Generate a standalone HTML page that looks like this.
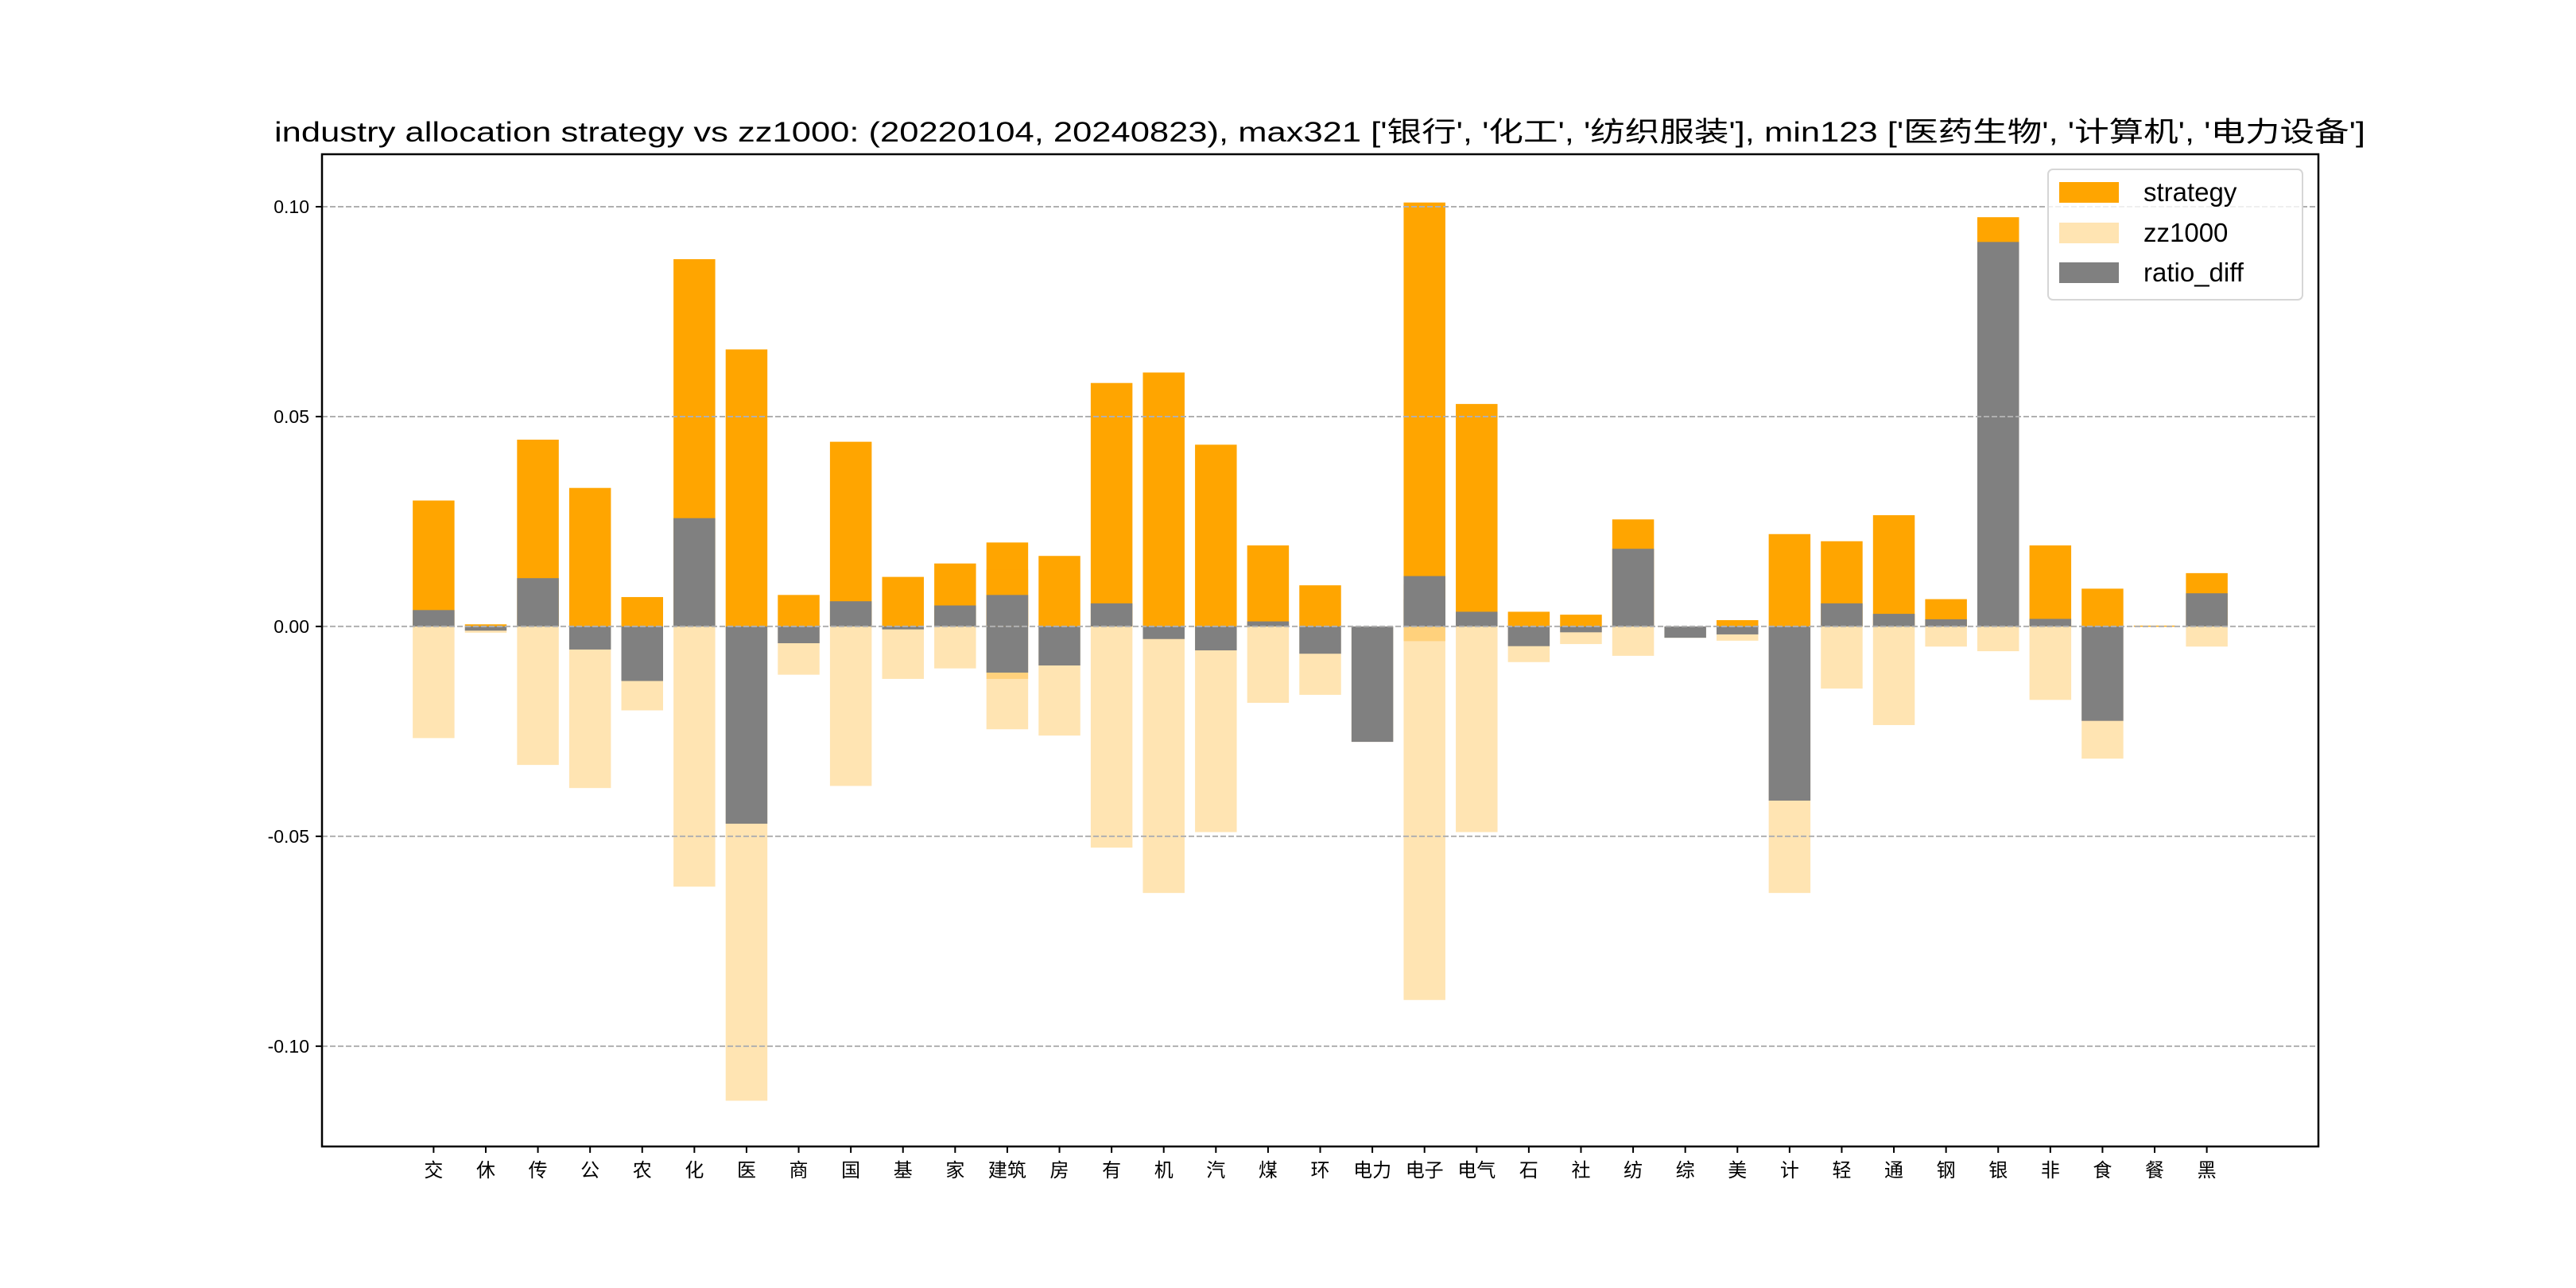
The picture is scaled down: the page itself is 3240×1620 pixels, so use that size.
<!DOCTYPE html>
<html><head><meta charset="utf-8">
<style>
html,body{margin:0;padding:0;background:#fff;}
svg{display:block;}
text{font-family:"Liberation Sans","Noto Sans CJK SC",sans-serif;}
</style></head>
<body>
<svg id="chart" width="3240" height="1620" viewBox="0 0 3240 1620" xmlns="http://www.w3.org/2000/svg">
<rect x="0" y="0" width="3240" height="1620" fill="#fff"/>
<text x="1660" y="178" text-anchor="middle" font-size="35" textLength="2630" lengthAdjust="spacingAndGlyphs" fill="#000">industry allocation strategy vs zz1000: (20220104, 20240823), max321 ['银行', '化工', '纺织服装'], min123 ['医药生物', '计算机', '电力设备']</text>
<g id="bars"></g>
<g id="grid"></g>
<g id="axes"></g>
<g id="legend">
  <rect x="2576" y="213" width="320" height="164" rx="6" fill="#fff" fill-opacity="0.8" stroke="#d6d6d6" stroke-width="2"/>
  <rect x="2590" y="229" width="75" height="26" fill="#FFA500"/>
  <text x="2696" y="253" font-size="33" fill="#000">strategy</text>
  <rect x="2590" y="280" width="75" height="26" fill="#FFE4B2"/>
  <text x="2696" y="304" font-size="33" fill="#000">zz1000</text>
  <rect x="2590" y="330" width="75" height="26" fill="#808080"/>
  <text x="2696" y="354" font-size="33" fill="#000">ratio_diff</text>
</g>
</svg>
<script>
const categories = ["交","休","传","公","农","化","医","商","国","基","家","建筑","建筑","房","有","机","汽","煤","环","电力","电子","电子","电气","石","社","纺","综","美","计","轻","通","钢","银","非","食","餐","黑"];
const strategyValues = [0.030,0.0005,0.0445,0.033,0.007,0.0875,0.066,0.0075,0.044,0.0118,0.015,0.020,0.0135,0.0168,0.058,0.0605,0.0433,0.0193,0.0098,0.0,0.101,0.010,0.053,0.0035,0.0028,0.0255,0.0,0.0015,0.022,0.0203,0.0265,0.0065,0.0975,0.0193,0.009,0.0002,0.0127];
const zz1000Values = [0.0266,0.0015,0.033,0.0385,0.020,0.062,0.113,0.0115,0.038,0.0125,0.010,0.0125,0.0245,0.026,0.0527,0.0635,0.049,0.0182,0.0163,0.0275,0.089,0.0035,0.049,0.0085,0.0042,0.007,0.0027,0.0034,0.0635,0.0148,0.0235,0.0048,0.0059,0.0175,0.0315,0.0002,0.0048];
const ratioDiffValues = [0.0039,-0.001,0.0115,-0.0055,-0.013,0.0258,-0.047,-0.004,0.006,-0.0007,0.005,0.0075,-0.011,-0.0093,0.0055,-0.003,-0.0057,0.0012,-0.0065,-0.0275,0.012,0.0065,0.0035,-0.0047,-0.0014,0.0185,-0.0027,-0.0019,-0.0415,0.0055,0.003,0.0017,0.0916,0.0018,-0.0225,0.0,0.0079];
const yTicks = [-0.10,-0.05,0.00,0.05,0.10];
const yTickLabels = ["-0.10","-0.05","0.00","0.05","0.10"];

const NS = "http://www.w3.org/2000/svg";
const L = 405, R = 2916, T = 194, B = 1442;
const yMin = -0.1239, yMax = 0.1125;
const labels = [];
categories.forEach(c => { if (labels.indexOf(c) < 0) labels.push(c); });
const n = labels.length;
const xMin = -0.4 - 0.05 * (n - 1 + 0.8), xMax = n - 1 + 0.4 + 0.05 * (n - 1 + 0.8);
function xs(i){ return L + (i - xMin) / (xMax - xMin) * (R - L); }
function ys(v){ return B - (v - yMin) / (yMax - yMin) * (B - T); }
const unit = (R - L) / (xMax - xMin);
const bw = 0.8 * unit;

function mk(tag, attrs, parent){
  const e = document.createElementNS(NS, tag);
  for (const k in attrs) e.setAttribute(k, attrs[k]);
  parent.appendChild(e);
  return e;
}
const gBars = document.getElementById("bars");
function bar(i, v, fill, name){
  const x = xs(labels.indexOf(categories[i])) - bw / 2;
  const y0 = ys(0), y1 = ys(v);
  const r = mk("rect", {x: x, y: Math.min(y0, y1), width: bw, height: Math.abs(y1 - y0), fill: fill}, gBars);
  
  
}
categories.forEach((c, i) => bar(i, strategyValues[i], "#FFA500", "strategy-bar"));
categories.forEach((c, i) => bar(i, -zz1000Values[i], "rgba(255,165,0,0.3)", "zz1000-bar"));
categories.forEach((c, i) => bar(i, ratioDiffValues[i], "#808080", "ratio-diff-bar"));

const gGrid = document.getElementById("grid");
const gAxes = document.getElementById("axes");
yTicks.forEach((t, k) => {
  const y = ys(t);
  const g = mk("line", {x1: L, x2: R, y1: y, y2: y, stroke: "#b0b0b0", "stroke-width": 2, "stroke-dasharray": "7,3"}, gGrid);
  
  
  const tk = mk("line", {x1: L - 8, x2: L, y1: y, y2: y, stroke: "#000", "stroke-width": 2}, gAxes);
  
  
  const tx = mk("text", {x: L - 16, y: y + 8, "text-anchor": "end", "font-size": 23, fill: "#000"}, gAxes);
  tx.textContent = yTickLabels[k];
  
  
});
labels.forEach((c, i) => {
  const x = xs(i);
  const tk = mk("line", {x1: x, x2: x, y1: B, y2: B + 8, stroke: "#000", "stroke-width": 2}, gAxes);
  
  
  const tx = mk("text", {x: x, y: B + 38, "text-anchor": "middle", "font-size": 24, fill: "#000"}, gAxes);
  tx.textContent = c;
  
  
});
const frame = mk("rect", {x: L, y: T, width: R - L, height: B - T, fill: "none", stroke: "#000", "stroke-width": 2.5}, gAxes);


</script>
</body></html>
